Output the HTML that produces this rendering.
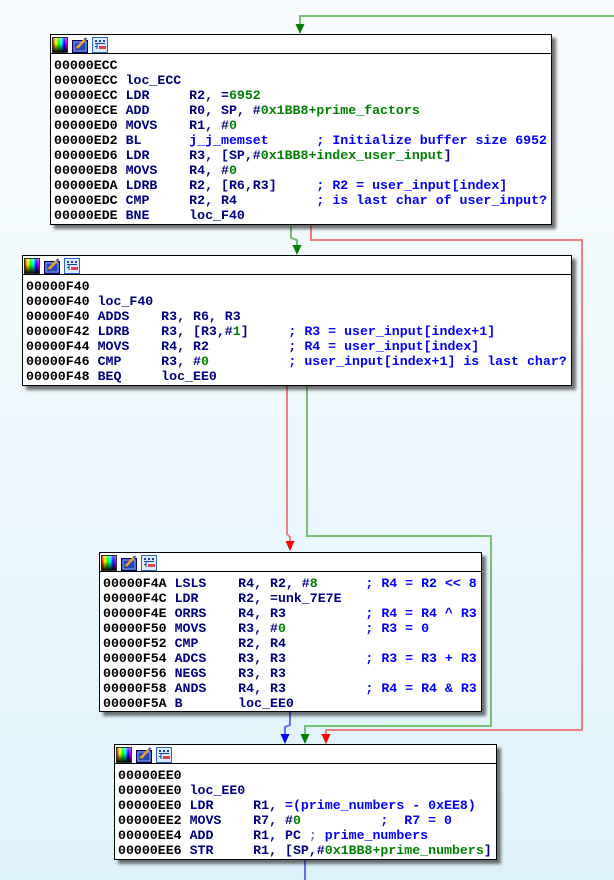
<!DOCTYPE html>
<html><head><meta charset="utf-8">
<style>
html,body{margin:0;padding:0;}
body{width:614px;height:880px;position:relative;overflow:hidden;
background:linear-gradient(to bottom,#f8fbfd 0%,#eef8fc 50%,#ddf3fb 100%);
font-family:"Liberation Mono",monospace;}
svg.wires{position:absolute;left:0;top:0;z-index:1;}
.blk{position:absolute;background:#fff;border:1px solid #000;box-sizing:border-box;z-index:2;
box-shadow:4px 4px 3px rgba(0,0,0,0.55);}
.hdr{height:18px;border-bottom:1px solid #000;position:relative;}
.ic{position:absolute;top:2px;width:16px;height:16px;}
.i1{left:1px;box-sizing:border-box;border:1px solid #303030;
background:linear-gradient(to bottom,rgba(255,255,255,0.35),rgba(0,0,0,0) 40%,rgba(0,0,0,0.95)),linear-gradient(to right,#f00,#ff0,#0f0,#0ff,#00f,#f0f);}
.i2{left:21px;}
.i3{left:41px;}
pre{margin:0;padding:4px 0 0 3px;font-size:13.25px;line-height:15px;font-weight:bold;color:#000080;
font-family:"Liberation Mono",monospace;white-space:pre;}
.a{color:#000;}
.n{color:#008000;}
.c{color:#0000ff;}
.f{color:#0000ff;}
.g{color:#7080b0;}
</style></head><body>

<svg class="wires" width="614" height="880" viewBox="0 0 614 880">
<g fill="none" stroke-width="2">
<polyline points="614,16 300,16 300,26" stroke="#78bf78"/>
<polyline points="291,225 291,238 297,240 297,246" stroke="#78bf78"/>
<polyline points="311,225 311,240 582,240 582,730 326,730 326,735" stroke="#f08080"/>
<polyline points="287,386 287,534 290,537 290,543" stroke="#f08080"/>
<polyline points="307,386 307,536 491,536 491,726 305,726 305,735" stroke="#78bf78"/>
<polyline points="290,712 290,725 285,727 285,735" stroke="#6070f0"/>
<polyline points="305,860 305,880" stroke="#6070f0"/>
</g>
<polygon points="295.5,24 304.5,24 300,34" fill="#008000"/>
<polygon points="292.5,245 301.5,245 297,255" fill="#008000"/>
<polygon points="285.5,541 294.5,541 290,551" fill="#ff0000"/>
<polygon points="280.5,734 289.5,734 285,744" fill="#0000ff"/>
<polygon points="300.5,734 309.5,734 305,744" fill="#008000"/>
<polygon points="321.5,734 330.5,734 326,744" fill="#ff0000"/>
</svg>

<!-- icons template used in each block -->
<div class="blk" style="left:50px;top:34px;width:502px;height:191px;">
<div class="hdr">
<div class="ic i1"></div>
<svg class="ic i2" viewBox="0 0 16 16"><rect x="0.5" y="3.5" width="15" height="12" fill="#2448b8" stroke="#000060"/><rect x="2" y="5" width="12" height="9" fill="none" stroke="#9cb4f0" stroke-width="0.8"/><line x1="4" y1="12" x2="14" y2="1.5" stroke="#f0a030" stroke-width="2.6"/><line x1="12.5" y1="3" x2="14.5" y2="1" stroke="#4060c0" stroke-width="2"/><polygon points="3,13.5 4.8,10.5 6,12" fill="#303030"/></svg>
<svg class="ic i3" viewBox="0 0 16 16"><rect x="0.5" y="0.5" width="15" height="15" fill="#dcecfc" stroke="#2c64c8"/><rect x="3" y="3" width="2" height="2" fill="#1840a0"/><rect x="7" y="3" width="2" height="2" fill="#1840a0"/><rect x="11" y="3" width="2" height="2" fill="#1840a0"/><line x1="3" y1="6.5" x2="13" y2="6.5" stroke="#1840a0"/><line x1="5" y1="7" x2="5" y2="12" stroke="#1840a0"/><line x1="3" y1="9.5" x2="5" y2="9.5" stroke="#1840a0"/><rect x="7" y="9" width="7" height="3" fill="#e04050"/></svg>
</div>
<pre><span class="a">00000ECC</span>
<span class="a">00000ECC</span> loc_ECC
<span class="a">00000ECC</span> LDR     R2, =<span class="n">6952</span>
<span class="a">00000ECE</span> ADD     R0, SP, #<span class="n">0x1BB8+prime_factors</span>
<span class="a">00000ED0</span> MOVS    R1, #<span class="n">0</span>
<span class="a">00000ED2</span> BL      <span class="f">j_j_memset</span>      <span class="c">; Initialize buffer size 6952</span>
<span class="a">00000ED6</span> LDR     R3, [SP,#<span class="n">0x1BB8+index_user_input</span>]
<span class="a">00000ED8</span> MOVS    R4, #<span class="n">0</span>
<span class="a">00000EDA</span> LDRB    R2, [R6,R3]     <span class="c">; R2 = user_input[index]</span>
<span class="a">00000EDC</span> CMP     R2, R4          <span class="c">; is last char of user_input?</span>
<span class="a">00000EDE</span> BNE     loc_F40</pre>
</div>

<div class="blk" style="left:22px;top:255px;width:550px;height:131px;">
<div class="hdr">
<div class="ic i1"></div>
<svg class="ic i2" viewBox="0 0 16 16"><rect x="0.5" y="3.5" width="15" height="12" fill="#2448b8" stroke="#000060"/><rect x="2" y="5" width="12" height="9" fill="none" stroke="#9cb4f0" stroke-width="0.8"/><line x1="4" y1="12" x2="14" y2="1.5" stroke="#f0a030" stroke-width="2.6"/><line x1="12.5" y1="3" x2="14.5" y2="1" stroke="#4060c0" stroke-width="2"/><polygon points="3,13.5 4.8,10.5 6,12" fill="#303030"/></svg>
<svg class="ic i3" viewBox="0 0 16 16"><rect x="0.5" y="0.5" width="15" height="15" fill="#dcecfc" stroke="#2c64c8"/><rect x="3" y="3" width="2" height="2" fill="#1840a0"/><rect x="7" y="3" width="2" height="2" fill="#1840a0"/><rect x="11" y="3" width="2" height="2" fill="#1840a0"/><line x1="3" y1="6.5" x2="13" y2="6.5" stroke="#1840a0"/><line x1="5" y1="7" x2="5" y2="12" stroke="#1840a0"/><line x1="3" y1="9.5" x2="5" y2="9.5" stroke="#1840a0"/><rect x="7" y="9" width="7" height="3" fill="#e04050"/></svg>
</div>
<pre><span class="a">00000F40</span>
<span class="a">00000F40</span> loc_F40
<span class="a">00000F40</span> ADDS    R3, R6, R3
<span class="a">00000F42</span> LDRB    R3, [R3,#<span class="n">1</span>]     <span class="c">; R3 = user_input[index+1]</span>
<span class="a">00000F44</span> MOVS    R4, R2          <span class="c">; R4 = user_input[index]</span>
<span class="a">00000F46</span> CMP     R3, #<span class="n">0</span>          <span class="c">; user_input[index+1] is last char?</span>
<span class="a">00000F48</span> BEQ     loc_EE0</pre>
</div>

<div class="blk" style="left:99px;top:552px;width:383px;height:160px;">
<div class="hdr">
<div class="ic i1"></div>
<svg class="ic i2" viewBox="0 0 16 16"><rect x="0.5" y="3.5" width="15" height="12" fill="#2448b8" stroke="#000060"/><rect x="2" y="5" width="12" height="9" fill="none" stroke="#9cb4f0" stroke-width="0.8"/><line x1="4" y1="12" x2="14" y2="1.5" stroke="#f0a030" stroke-width="2.6"/><line x1="12.5" y1="3" x2="14.5" y2="1" stroke="#4060c0" stroke-width="2"/><polygon points="3,13.5 4.8,10.5 6,12" fill="#303030"/></svg>
<svg class="ic i3" viewBox="0 0 16 16"><rect x="0.5" y="0.5" width="15" height="15" fill="#dcecfc" stroke="#2c64c8"/><rect x="3" y="3" width="2" height="2" fill="#1840a0"/><rect x="7" y="3" width="2" height="2" fill="#1840a0"/><rect x="11" y="3" width="2" height="2" fill="#1840a0"/><line x1="3" y1="6.5" x2="13" y2="6.5" stroke="#1840a0"/><line x1="5" y1="7" x2="5" y2="12" stroke="#1840a0"/><line x1="3" y1="9.5" x2="5" y2="9.5" stroke="#1840a0"/><rect x="7" y="9" width="7" height="3" fill="#e04050"/></svg>
</div>
<pre style="padding-top:3.5px"><span class="a">00000F4A</span> LSLS    R4, R2, #<span class="n">8</span>      <span class="c">; R4 = R2 &lt;&lt; 8</span>
<span class="a">00000F4C</span> LDR     R2, =unk_7E7E
<span class="a">00000F4E</span> ORRS    R4, R3          <span class="c">; R4 = R4 ^ R3</span>
<span class="a">00000F50</span> MOVS    R3, #<span class="n">0</span>          <span class="c">; R3 = 0</span>
<span class="a">00000F52</span> CMP     R2, R4
<span class="a">00000F54</span> ADCS    R3, R3          <span class="c">; R3 = R3 + R3</span>
<span class="a">00000F56</span> NEGS    R3, R3
<span class="a">00000F58</span> ANDS    R4, R3          <span class="c">; R4 = R4 &amp; R3</span>
<span class="a">00000F5A</span> B       loc_EE0</pre>
</div>

<div class="blk" style="left:114px;top:744px;width:383px;height:116px;">
<div class="hdr">
<div class="ic i1"></div>
<svg class="ic i2" viewBox="0 0 16 16"><rect x="0.5" y="3.5" width="15" height="12" fill="#2448b8" stroke="#000060"/><rect x="2" y="5" width="12" height="9" fill="none" stroke="#9cb4f0" stroke-width="0.8"/><line x1="4" y1="12" x2="14" y2="1.5" stroke="#f0a030" stroke-width="2.6"/><line x1="12.5" y1="3" x2="14.5" y2="1" stroke="#4060c0" stroke-width="2"/><polygon points="3,13.5 4.8,10.5 6,12" fill="#303030"/></svg>
<svg class="ic i3" viewBox="0 0 16 16"><rect x="0.5" y="0.5" width="15" height="15" fill="#dcecfc" stroke="#2c64c8"/><rect x="3" y="3" width="2" height="2" fill="#1840a0"/><rect x="7" y="3" width="2" height="2" fill="#1840a0"/><rect x="11" y="3" width="2" height="2" fill="#1840a0"/><line x1="3" y1="6.5" x2="13" y2="6.5" stroke="#1840a0"/><line x1="5" y1="7" x2="5" y2="12" stroke="#1840a0"/><line x1="3" y1="9.5" x2="5" y2="9.5" stroke="#1840a0"/><rect x="7" y="9" width="7" height="3" fill="#e04050"/></svg>
</div>
<pre><span class="a">00000EE0</span>
<span class="a">00000EE0</span> loc_EE0
<span class="a">00000EE0</span> LDR     R1, <span class="f">=(prime_numbers - 0xEE8)</span>
<span class="a">00000EE2</span> MOVS    R7, #<span class="n">0</span>          <span class="c">;  R7 = 0</span>
<span class="a">00000EE4</span> ADD     R1, PC <span class="g">;</span> <span class="f">prime_numbers</span>
<span class="a">00000EE6</span> STR     R1, [SP,#<span class="n">0x1BB8+prime_numbers</span>]</pre>
</div>

</body></html>
